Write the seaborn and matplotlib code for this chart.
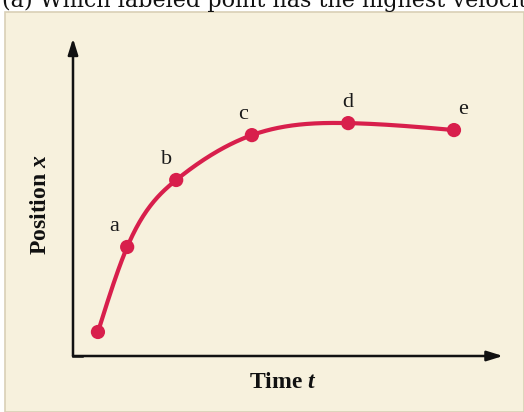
import numpy as np
import pandas as pd
import matplotlib
matplotlib.use("Agg")
import matplotlib.pyplot as plt
from matplotlib.patches import Rectangle
import seaborn as sns

# Labelled points on the position-time curve
labels = ["", "a", "b", "c", "d", "e"]
time_t = [0.58, 1.26, 2.40, 4.16, 6.40, 8.86]
position_x = [0.76, 3.45, 5.57, 6.99, 7.37, 7.15]

title_text = "(a) Which labeled point has the highest velocity?"
xlabel_text = "Time"
ylabel_text = "Position"

CURVE = "#d81f4c"
CREAM = "#f7f1dd"


def natural_spline(xs, ys, n=300):
    """Natural cubic spline through the given points, for drawing."""
    x = np.asarray(xs, float)
    y = np.asarray(ys, float)
    k = len(x)
    h = np.diff(x)
    A = np.zeros((k, k))
    b = np.zeros(k)
    A[0, 0] = A[-1, -1] = 1.0
    for i in range(1, k - 1):
        A[i, i - 1] = h[i - 1]
        A[i, i] = 2 * (h[i - 1] + h[i])
        A[i, i + 1] = h[i]
        b[i] = 3 * ((y[i + 1] - y[i]) / h[i] - (y[i] - y[i - 1]) / h[i - 1])
    c = np.linalg.solve(A, b)
    xx = np.linspace(x[0], x[-1], n)
    idx = np.clip(np.searchsorted(x, xx) - 1, 0, k - 2)
    dx = xx - x[idx]
    bb = (y[idx + 1] - y[idx]) / h[idx] - h[idx] * (2 * c[idx] + c[idx + 1]) / 3
    dd = (c[idx + 1] - c[idx]) / (3 * h[idx])
    yy = y[idx] + bb * dx + c[idx] * dx ** 2 + dd * dx ** 3
    return xx, yy


sns.set_theme(style="white")
plt.rcParams["font.family"] = ["Liberation Serif", "DejaVu Serif"]
plt.rcParams["mathtext.fontset"] = "custom"
plt.rcParams["mathtext.it"] = "Liberation Serif:italic:bold"

W, H = 524, 412
fig = plt.figure(figsize=(W / 100, H / 100), dpi=100, facecolor="white")

# cream card behind the plot
fig.patches.append(Rectangle((5 / W, 0), 1 - 5 / W, (H - 12) / H,
                             transform=fig.transFigure, facecolor=CREAM,
                             edgecolor="#d9d0b6", linewidth=1.2, zorder=-5))

fig.text(2 / W, 1 - 7.5 / H, title_text, fontsize=16.0, va="baseline",
         ha="left", color="#111111", family="DejaVu Serif", zorder=-4)

ax = fig.add_axes([73 / W, 1 - 356 / H, (503 - 73) / W, (356 - 40) / H])
ax.set_zorder(2)
ax.set_facecolor("none")
ax.set_xlim(0, 10)
ax.set_ylim(0, 10)
for s in ax.spines.values():
    s.set_visible(False)
ax.set_xticks([])
ax.set_yticks([])

# axes drawn as arrows
arrow = dict(arrowstyle="-|>,head_length=0.8,head_width=0.25", color="#111111",
             lw=1.8, shrinkA=0, shrinkB=0)
ax.annotate("", xy=(0, 1.005), xytext=(0, 0), xycoords="axes fraction",
            arrowprops=arrow)
ax.annotate("", xy=(1, 0), xytext=(0, 0), xycoords="axes fraction",
            arrowprops=arrow)
ax.plot([0, 0.02], [0, 0], transform=ax.transAxes, color="#111111", lw=1.8,
        solid_capstyle="projecting", clip_on=False)

cx, cy = natural_spline(time_t, position_x)
curve = pd.DataFrame({"t": cx, "x": cy})
pts = pd.DataFrame({"t": time_t, "x": position_x, "label": labels})

sns.lineplot(data=curve, x="t", y="x", sort=False, color=CURVE, lw=3.0,
             ax=ax, zorder=3)
sns.scatterplot(data=pts, x="t", y="x", color=CURVE, s=105, edgecolor="none",
                ax=ax, zorder=4)
ax.set_xlabel("")
ax.set_ylabel("")

label_dx = {"a": -13, "b": -10, "c": -9, "d": 0, "e": 9}
for _, r in pts.iterrows():
    if r["label"]:
        ax.annotate(r["label"], (r["t"], r["x"]),
                    xytext=(label_dx[r["label"]], 11),
                    textcoords="offset pixels", ha="center", va="bottom",
                    fontsize=16, color="#1a1a1a")

fig.text(283 / W, 1 - 383 / H, xlabel_text + r" $t$", fontsize=17,
         fontweight="bold", ha="center", va="center", color="#111111")
fig.text(40 / W, 1 - 205 / H, ylabel_text + r" $x$", fontsize=17,
         fontweight="bold", ha="center", va="center", rotation=90,
         color="#111111")

fig.savefig("out.png", dpi=100, facecolor=fig.get_facecolor())
